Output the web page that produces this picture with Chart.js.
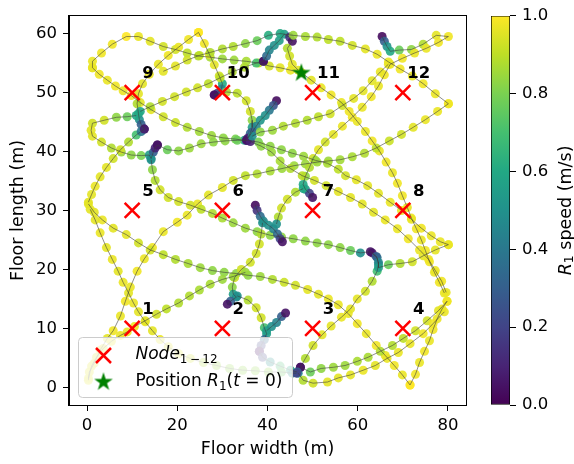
<!DOCTYPE html>
<html>
<head>
<meta charset="utf-8">
<script src="https://cdn.jsdelivr.net/npm/chart.js@4.4.1/dist/chart.umd.min.js"></script>
<style>
html, body { margin: 0; padding: 0; background: #fff; }
#wrap { position: relative; width: 574px; height: 464px; }
#wrap canvas { position: absolute; top: 0; }
</style>
</head>
<body>
<div id="wrap">
	<canvas id="chart-track" width="574" height="464" style="left:0"></canvas>
	<canvas id="chart-colorbar" width="94" height="464" style="left:480px"></canvas>
</div>
<script>
// ---- data ----
const xTicks = [0, 20, 40, 60, 80];
const yTicks = [0, 10, 20, 30, 40, 50, 60];
const speedTicks = [0, 0.2, 0.4, 0.6, 0.8, 1.0];

const nodeX = [10, 30, 50, 70, 10, 30, 50, 70, 10, 30, 50, 70];
const nodeY = [10, 10, 10, 10, 30, 30, 30, 30, 50, 50, 50, 50];
const nodeLabels = ["1", "2", "3", "4", "5", "6", "7", "8", "9", "10", "11", "12"];
const startX = 47.5;
const startY = 53.4;

// trajectory pieces of R1: [x (m), y (m), speed (m/s)]
const seg01 = [[1.2,54.2,.96],[1.2,55.3,.97],[3.2,56.7,.98],[5.6,58.2,.98],[8.7,59.5,1.0],[11.4,59.5,.97],[14.0,58.7,.96],[16.9,57.8,.93],[19.6,57.3,.93],[22.2,56.7,.9],[24.7,56.2,.88],[27.3,56.0,.87],[30.0,55.7,.85],[32.6,55.5,.85],[35.3,55.3,.87],[38.0,55.0,.9],[40.4,54.5,.93],[42.8,54.2,.96],[45.1,53.8,.97],[47.5,53.4,.96],[49.7,52.1,.96],[51.9,50.8,.97],[54.1,49.6,.98],[56.4,48.3,.97],[58.1,46.8,.98],[59.9,45.1,.97],[61.7,43.4,.97],[63.2,41.8,.98],[64.8,40.1,.97],[66.3,38.2,.98],[67.7,36.4,.97],[68.8,34.6,.98],[69.9,32.5,.98],[71.0,30.5,.97],[71.9,28.7,.98],[73.0,26.9,.98],[74.1,25.0,.97],[75.0,23.2,.98],[75.9,21.3,.98],[77.0,19.5,.97],[78.1,17.8,.98],[79.2,16.0,.97]];
const seg02 = [[1.2,54.2,.97],[2.7,53.1,.98],[4.5,52.1,.97],[6.3,51.1,.98],[8.0,50.3,.97],[9.8,49.5,.98],[11.8,48.3,.96],[14.2,47.1,.96],[16.9,45.9,.93],[19.6,44.9,.92],[22.2,44.1,.88],[24.9,43.4,.86],[27.6,42.7,.85],[30.2,42.3,.83],[32.9,42.1,.8],[34.9,41.9,.6],[35.5,41.9,.05]];
const seg03 = [[24.7,60.2,1.0],[22.5,59.0,.98],[20.3,57.7,.97],[18.0,56.3,.98],[15.8,54.8,.97],[13.8,53.1,.97],[12.3,51.5,.96],[11.4,49.8,.96],[11.1,48.1,.88],[11.4,46.4,.58],[11.6,45.4,.5],[12.0,44.6,.3],[12.7,43.8,.06]];
const seg04 = [[24.7,60.2,1.0],[26.0,58.3,.98],[27.1,56.5,.97],[28.2,54.7,.96],[29.3,52.8,.93],[30.0,51.5,.6],[29.8,50.6,.45],[28.9,49.9,.22],[28.2,49.6,.05]];
const seg05 = [[28.2,49.6,.05],[30.9,50.1,.88],[33.3,49.9,.9],[35.3,48.6,.93],[36.2,46.8,.93],[36.6,45.3,.83],[36.6,44.1,.55],[36.2,43.1,.35],[35.5,42.1,.05]];
const seg06 = [[42.0,48.6,.03],[41.3,47.8,.25],[40.4,47.0,.4],[39.5,46.1,.5],[38.4,45.3,.52],[37.5,44.3,.45],[36.6,43.3,.3],[35.7,42.3,.1]];
const seg07 = [[11.8,46.8,.6],[14.0,47.6,.88],[16.7,48.5,.93],[19.4,49.3,.93],[22.0,50.1,.93],[24.5,50.8,.93],[26.9,51.5,.9],[29.5,52.5,.9],[32.2,53.5,.88],[34.9,54.3,.88],[37.5,55.0,.7],[39.1,55.3,.1]];
const seg08 = [[39.1,55.3,.05],[39.8,56.2,.35],[40.4,57.2,.45],[41.5,58.0,.5],[42.6,58.8,.55],[43.7,59.9,.55],[44.9,59.4,.15],[45.5,58.7,.05],[44.4,57.5,.88],[44.9,56.2,.93],[45.5,54.8,.96],[46.8,53.8,.96]];
const seg09 = [[16.9,53.6,.96],[19.6,54.5,.96],[22.2,55.5,.93],[24.9,56.3,.9],[27.3,56.8,.88],[30.0,57.4,.88],[32.4,57.8,.88],[35.1,58.3,.83],[37.7,58.8,.77],[40.2,59.7,.62],[42.8,60.0,.6],[45.7,59.7,.85],[48.4,59.5,.87],[51.0,59.4,.88],[53.5,59.0,.9],[56.1,58.7,.9],[58.8,58.0,.93],[61.7,57.4,.96],[64.3,56.5,.97],[66.8,55.2,.97],[69.4,54.0,.98],[72.1,52.8,.97],[74.5,51.5,.98],[77.2,49.8,.97],[80.1,48.1,.98]];
const seg10 = [[80.1,48.1,.98],[77.7,46.8,.97],[75.0,45.4,.97],[72.3,44.1,.96],[69.7,42.9,.93],[67.0,41.8,.92],[64.1,40.6,.9],[61.5,39.7,.88],[58.8,39.1,.87],[56.1,38.6,.86],[53.5,38.4,.85],[51.0,38.2,.85],[48.4,37.9,.85],[45.9,37.6,.85],[43.2,37.1,.85],[40.6,36.7,.87],[37.7,36.2,.88],[35.1,35.9,.9],[32.4,35.1,.93],[30.0,33.9,.96],[26.9,32.6,.96],[24.5,31.1,.97],[22.2,29.2,.97],[20.0,28.0,.98],[16.9,26.4,.97],[14.5,23.7,.98],[12.7,21.8,.97],[11.1,19.7,.98],[9.6,17.0,.97],[8.5,14.6,.98],[7.4,12.1,.97],[5.8,9.6,.98],[4.5,8.3,.96],[2.9,6.3,.96],[1.6,4.1,.96],[0.5,2.6,.96],[0.3,1.2,.96]];
const seg11 = [[65.4,59.5,.03],[65.9,58.7,.3],[66.5,57.8,.5],[67.2,57.0,.6],[69.2,57.2,.77],[71.9,57.3,.83],[74.5,58.2,.88],[77.4,59.7,.96],[80.1,59.5,.98],[77.9,58.5,.98],[75.2,57.5,.97],[72.6,56.7,.97],[69.9,55.8,.98],[67.2,54.8,.97],[65.9,53.0,.98],[64.6,51.1,.97],[63.0,49.3,.98],[61.0,47.5,.97],[58.8,45.8,.98],[56.6,44.3,.97],[54.6,42.9,.96],[52.8,41.6,.93],[51.3,40.3,.96],[50.1,38.8,.93],[49.3,37.3,.88],[48.4,35.8,.83],[47.9,34.4,.6],[48.4,33.6,.55],[49.3,32.9,.2],[50.0,32.2,.05]];
const seg12 = [[10.9,46.1,.6],[8.9,45.9,.77],[6.5,45.8,.83],[3.8,45.3,.93],[1.2,44.8,.93],[0.9,43.6,.96],[1.2,42.6,.96],[3.2,41.6,.93],[5.4,40.6,.88],[7.6,39.9,.85],[9.8,39.4,.83],[12.0,39.3,.8],[13.8,39.4,.55],[14.2,38.8,.5],[14.7,39.9,.3],[15.1,40.6,.1],[15.6,41.1,.05]];
const seg13 = [[0.3,31.4,.96],[1.0,32.7,.96],[1.8,34.1,.97],[2.9,35.7,.96],[4.3,37.3,.96],[5.8,38.8,.93],[7.4,40.3,.93],[9.2,41.6,.88],[10.9,42.8,.7],[12.0,43.4,.4],[12.7,43.8,.08]];
const seg14 = [[15.6,41.1,.05],[17.8,40.3,.77],[20.3,40.1,.83],[22.7,40.6,.85],[25.3,41.3,.85],[28.0,41.6,.83],[30.6,41.8,.83],[33.3,41.9,.77],[35.3,41.9,.1]];
const seg15 = [[0.3,31.1,.96],[1.6,29.7,.96],[3.4,28.4,.97],[5.8,27.0,.96],[8.7,25.9,.96],[11.4,24.5,.93],[14.0,23.3,.93],[16.9,22.5,.9],[19.6,21.7,.88],[22.4,21.0,.87],[25.1,20.3,.85],[27.8,19.8,.83],[30.4,19.5,.83],[33.1,19.3,.83],[35.7,19.0,.83],[38.4,18.8,.85],[41.1,18.3,.88],[43.7,17.8,.92],[46.2,17.3,.93],[48.9,16.6,.96],[51.3,15.8,.96],[53.5,15.0,.97],[55.7,14.0,.97],[57.9,12.5,.97],[59.9,10.8,.98],[61.9,9.1,.97],[64.1,7.1,.98],[66.1,5.4,.97],[68.1,3.7,.98],[69.9,2.1,.97],[71.6,0.4,1.0]];
const seg16 = [[71.6,0.4,1.0],[72.8,2.2,.98],[73.7,4.2,.97],[74.8,6.1,.98],[75.9,7.9,.97],[76.7,9.8,.98],[77.6,11.6,.97],[78.7,13.3,.98],[79.8,14.6,.98]];
const seg17 = [[79.8,14.6,.98],[77.9,13.0,.96],[75.4,11.3,.93],[72.8,9.6,.93],[70.1,8.3,.9],[67.7,7.1,.88],[65.0,6.1,.88],[62.3,5.1,.87],[59.9,4.4,.87],[57.2,3.7,.85],[54.6,3.4,.85],[51.9,3.2,.83],[49.5,2.6,.77],[47.3,3.4,.05]];
const seg18 = [[46.8,2.4,.45],[47.9,1.2,.88],[50.1,0.7,.93],[53.3,0.9,.96],[55.7,1.6,.96],[58.4,2.1,.96],[61.2,2.9,.97],[63.9,3.7,.96],[66.5,4.9,.97],[69.0,5.9,.97],[71.6,7.4,.97],[74.5,9.1,.98],[76.7,10.8,.98],[79.2,12.8,.97]];
const seg19 = [[47.3,3.4,.05],[48.4,4.9,.88],[50.1,7.1,.93],[52.1,8.9,.96],[54.1,10.4,.96],[56.4,11.9,.97],[58.4,13.3,.96],[59.9,15.0,.96],[61.7,16.3,.93],[63.2,18.0,.88],[64.3,19.7,.7],[64.6,20.8,.55],[64.3,22.0,.4],[63.2,22.8,.05]];
const seg20 = [[14.2,38.6,.5],[14.5,36.9,.83],[15.1,35.1,.88],[16.2,33.5,.93],[18.0,32.2,.93],[20.3,31.5,.93],[22.9,30.9,.93],[25.3,30.2,.9],[27.8,29.5,.88],[30.0,28.7,.87],[32.4,27.9,.85],[35.1,27.0,.85],[37.7,26.4,.83],[40.6,25.8,.83],[43.1,25.5,.83],[45.7,25.2,.83],[48.4,24.8,.83],[51.0,24.5,.83],[53.5,24.2,.83],[56.1,23.7,.83],[58.4,23.2,.77],[60.6,22.8,.5],[62.8,23.0,.05],[64.1,22.2,.3],[64.6,21.2,.45],[64.6,20.3,.55],[66.8,20.8,.77],[69.4,21.0,.88],[72.1,21.3,.93],[74.5,22.3,.96],[77.2,23.3,.96],[80.1,24.2,.97]];
const seg21 = [[35.5,41.9,.05],[38.0,41.6,.8],[40.6,40.9,.83],[43.1,40.3,.83],[45.5,39.7,.83],[48.0,39.2,.85],[50.6,38.5,.85],[53.3,38.0,.87],[55.7,37.0,.9],[57.3,35.9,.93],[59.7,35.2,.96],[62.2,34.2,.96],[64.6,32.9,.96],[67.2,31.4,.97],[69.7,30.0,.97],[71.9,28.5,.97],[74.1,27.0,.98],[76.3,25.7,.97],[78.3,24.7,.97],[80.1,24.2,.97]];
const seg22 = [[36.2,41.7,.1],[38.6,40.9,.83],[40.9,39.9,.85],[42.8,38.4,.87],[45.1,37.1,.88],[47.7,35.9,.9],[50.4,35.1,.93],[53.0,34.2,.93],[55.7,33.2,.96],[58.4,32.2,.96],[61.0,31.1,.96],[63.5,29.7,.96],[66.1,28.4,.97],[68.8,26.9,.97],[71.2,25.2,.98],[73.7,23.3,.97],[75.7,21.7,.98],[77.2,19.8,.97],[78.6,18.0,.98],[79.6,16.1,.97]];
const seg23 = [[37.3,30.9,.03],[37.7,30.0,.15],[38.4,29.0,.35],[39.1,28.2,.45],[40.2,27.5,.5],[41.3,26.9,.45],[42.2,26.0,.35],[42.8,25.2,.2],[43.3,24.7,.05]];
const seg24 = [[47.9,33.7,.6],[46.2,33.1,.88],[44.4,31.9,.93],[43.1,30.4,.93],[42.4,28.9,.88],[42.0,27.7,.5]];
const seg25 = [[38.9,27.9,.5],[38.6,26.0,.88],[38.2,24.3,.93],[37.5,22.7,.93],[36.2,21.2,.93],[34.2,20.0,.93],[32.7,18.6,.93],[32.2,17.0,.83],[32.4,15.8,.55],[33.1,15.3,.45],[31.8,14.6,.3],[31.1,14.1,.05]];
const seg26 = [[33.3,15.5,.5],[35.7,14.8,.88],[37.5,13.5,.93],[38.6,11.8,.93],[39.3,10.1,.7],[39.8,9.1,.55],[39.3,8.1,.35],[38.6,7.1,.2],[38.2,6.1,.05]];
const seg27 = [[39.8,9.6,.55],[40.9,10.3,.5],[42.0,11.0,.45],[43.1,12.0,.3],[44.0,12.6,.05]];
const seg28 = [[38.2,6.1,.05],[38.9,5.1,.2],[40.6,4.3,.5],[42.8,3.6,.7],[45.1,2.9,.6],[46.6,2.6,.3]];
const seg29 = [[0.7,30.2,.96],[1.8,28.4,.96],[2.9,26.2,.97],[4.3,23.7,.96],[5.6,21.7,.97],[6.9,19.7,.96],[8.0,17.8,.97],[9.2,16.0,.96],[10.3,14.3,.97],[11.4,12.8,.96],[12.9,11.1,.97],[14.5,9.6,.96],[16.2,8.1,.97],[18.0,6.9,.96],[20.3,5.7,.96],[22.9,4.9,.93],[25.8,4.2,.88],[28.7,3.7,.85],[31.6,3.2,.83],[34.5,2.9,.83],[37.3,2.8,.83],[40.2,2.6,.83],[43.1,2.6,.77],[45.5,2.4,.5],[46.4,2.4,.2]];
const seg30 = [[0.3,1.5,.96],[1.0,3.6,.96],[2.1,5.1,.96],[3.6,6.6,.96],[5.4,7.8,.97],[7.4,8.8,.97],[8.9,9.4,.97],[10.5,10.3,.97],[12.9,11.3,.96],[15.4,12.4,.93],[17.6,13.3,.9],[20.3,14.3,.88],[22.7,15.5,.88],[24.9,16.5,.87],[27.3,17.5,.87],[30.0,18.3,.85],[32.4,18.8,.85],[35.1,19.5,.85]];
const seg31 = [[66.8,54.8,.97],[65.0,53.5,.97],[63.2,52.0,.96],[61.2,50.3,.96],[59.1,49.0,.96],[56.6,47.8,.93],[53.9,46.4,.93],[51.3,45.9,.9],[48.8,45.3,.88],[46.2,44.8,.88],[43.5,44.3,.88],[41.1,43.6,.85],[38.4,43.3,.83],[36.6,42.6,.5]];

const segments = [seg01, seg02, seg03, seg04, seg05, seg06, seg07, seg08, seg09, seg10,
	seg11, seg12, seg13, seg14, seg15, seg16, seg17, seg18, seg19, seg20,
	seg21, seg22, seg23, seg24, seg25, seg26, seg27, seg28, seg29, seg30, seg31];

// ---- style ----
const FONT = "'DejaVu Sans', sans-serif";
const VIRIDIS = [[68,1,84],[72,36,117],[65,68,135],[53,95,141],[42,120,142],[33,145,140],[34,168,132],[68,191,112],[122,209,81],[189,223,38],[253,231,37]];

const viridis = (v, alpha = 1) => {
	const t = Math.max(0, Math.min(1, v)) * (VIRIDIS.length - 1);
	const i = Math.min(Math.floor(t), VIRIDIS.length - 2);
	const f = t - i;
	const c = VIRIDIS[i].map((a, k) => Math.round(a + (VIRIDIS[i + 1][k] - a) * f));
	return `rgba(${c[0]},${c[1]},${c[2]},${alpha})`;
};

const starImage = (() => {
	const size = 22, c = document.createElement("canvas");
	c.width = size; c.height = size;
	const g = c.getContext("2d");
	const R = 9.8, r = R * 0.382;
	g.beginPath();
	for (let k = 0; k < 10; k++) {
		const rad = k % 2 === 0 ? R : r;
		const a = -Math.PI / 2 + k * Math.PI / 5;
		g.lineTo(size / 2 + rad * Math.cos(a), size / 2 + 0.6 + rad * Math.sin(a));
	}
	g.closePath();
	g.fillStyle = "#008000";
	g.fill();
	return c;
})();

const drawRuns = (ctx, x, y, runs) => {
	runs.forEach((r) => {
		ctx.font = r.font;
		ctx.fillText(r.text, x, y + (r.dy || 0));
		x += ctx.measureText(r.text).width;
	});
};
const runsWidth = (ctx, runs) => runs.reduce((w, r) => { ctx.font = r.font; return w + ctx.measureText(r.text).width; }, 0);

// ---- track chart ----
(() => {
	const CHART_WRAPPER = document.getElementById("chart-track");

	const dots = [];
	const dotColors = [];
	const path = [];
	segments.forEach((seg) => {
		seg.forEach((p) => {
			dots.push({ x: p[0], y: p[1] });
			dotColors.push(viridis(p[2], 0.9));
			path.push({ x: p[0], y: p[1] });
		});
		path.push({ x: null, y: null });
	});

	const framePlugin = {
		id: "frameAndLabels",
		afterDatasetsDraw(chart) {
			const { ctx, scales: { x, y } } = chart;
			ctx.save();
			ctx.fillStyle = "#000";
			ctx.font = `bold 16.5px ${FONT}`;
			ctx.textAlign = "center";
			ctx.textBaseline = "middle";
			nodeLabels.forEach((t, i) => {
				ctx.fillText(t, x.getPixelForValue(nodeX[i] + 3.5), y.getPixelForValue(nodeY[i] + 3.2));
			});
			ctx.restore();
		},
		afterDraw(chart) {
			const { ctx, chartArea: a } = chart;
			ctx.save();
			ctx.strokeStyle = "#000";
			ctx.lineWidth = 1;
			ctx.strokeRect(Math.round(a.left) - 0.5, Math.round(a.top) - 0.5, Math.round(a.right - a.left) + 1, Math.round(a.bottom - a.top) + 1);

			// legend
			const bx = 78.5, by = 337.5, bw = 214, bh = 60, br = 4;
			ctx.beginPath();
			ctx.roundRect(bx, by, bw, bh, br);
			ctx.fillStyle = "rgba(255,255,255,0.8)";
			ctx.fill();
			ctx.strokeStyle = "#cccccc";
			ctx.stroke();

			ctx.strokeStyle = "#ff0000";
			ctx.lineWidth = 2.5;
			const mx = 103.5, my = 355.5, h = 7.5;
			ctx.beginPath();
			ctx.moveTo(mx - h, my - h); ctx.lineTo(mx + h, my + h);
			ctx.moveTo(mx - h, my + h); ctx.lineTo(mx + h, my - h);
			ctx.stroke();
			ctx.drawImage(starImage, 103.5 - 11, 381.5 - 11);

			ctx.fillStyle = "#000";
			ctx.textAlign = "left";
			ctx.textBaseline = "alphabetic";
			drawRuns(ctx, 135.5, 359, [
				{ text: "Node", font: `italic 17px ${FONT}` },
				{ text: "1\u2009\u2212\u200912", font: `12px ${FONT}`, dy: 4 },
			]);
			drawRuns(ctx, 135.5, 386, [
				{ text: "Position ", font: `17px ${FONT}` },
				{ text: "R", font: `italic 17px ${FONT}` },
				{ text: "1", font: `12px ${FONT}`, dy: 4 },
				{ text: "(", font: `17px ${FONT}` },
				{ text: "t", font: `italic 17px ${FONT}` },
				{ text: " = 0)", font: `17px ${FONT}` },
			]);
			ctx.restore();
		},
	};

	const axisCommon = {
		type: "linear",
		grid: { display: true, drawOnChartArea: false, drawTicks: true, tickLength: 6, color: "#000", lineWidth: 1 },
		border: { display: true, color: "#000", width: 1 },
	};

	const CHART_CONFIG = {
		type: "scatter",
		data: {
			datasets: [
				{
					label: "speed",
					data: dots,
					pointRadius: 4.5,
					pointHoverRadius: 4.5,
					pointBorderWidth: 0,
					pointBackgroundColor: dotColors,
					order: 4,
				},
				{
					label: "path",
					data: path,
					showLine: true,
					spanGaps: false,
					borderColor: "rgba(60,60,60,0.65)",
					borderWidth: 0.9,
					pointRadius: 0,
					order: 3,
				},
				{
					label: "nodes",
					data: nodeX.map((x, i) => ({ x, y: nodeY[i] })),
					pointStyle: "crossRot",
					pointRadius: 10.6,
					pointBorderWidth: 2.5,
					borderColor: "#ff0000",
					backgroundColor: "#ff0000",
					order: 2,
				},
				{
					label: "start",
					data: [{ x: startX, y: startY }],
					pointStyle: starImage,
					pointRadius: 10,
					order: 1,
				},
			],
		},
		options: {
			responsive: false,
			animation: false,
			devicePixelRatio: 1,
			layout: { padding: { left: 0, right: 108, top: 11, bottom: 0 } },
			plugins: {
				legend: { display: false },
				title: { display: false },
				tooltip: { enabled: false },
			},
			scales: {
				x: {
					...axisCommon,
					min: -4,
					max: 84,
					afterBuildTicks: (s) => { s.ticks = xTicks.map((v) => ({ value: v })); },
					afterFit: (s) => { s.height = 59; },
					ticks: { color: "#000", font: { family: FONT, size: 16.5 }, padding: 5, maxRotation: 0 },
					title: { display: true, text: "Floor width (m)", color: "#000", font: { family: FONT, size: 17.5 }, padding: { top: 0, bottom: 4.5 } },
				},
				y: {
					...axisCommon,
					min: -3,
					max: 63,
					afterBuildTicks: (s) => { s.ticks = yTicks.map((v) => ({ value: v })); },
					afterFit: (s) => { s.width = 69; },
					ticks: { color: "#000", font: { family: FONT, size: 16.5 }, padding: 6 },
					title: { display: true, text: "Floor length (m)", color: "#000", font: { family: FONT, size: 17.5 }, padding: { top: 7.5, bottom: 0 } },
				},
			},
		},
		plugins: [framePlugin],
	};

	if (CHART_WRAPPER) {
		new Chart(CHART_WRAPPER, CHART_CONFIG);
	}
})();

// ---- colorbar ----
(() => {
	const CHART_WRAPPER = document.getElementById("chart-colorbar");

	const labelPlugin = {
		id: "colorbarLabel",
		afterDraw(chart) {
			const { ctx, chartArea: a } = chart;
			const runs = [
				{ text: "R", font: `italic 17.5px ${FONT}` },
				{ text: "1", font: `12.5px ${FONT}`, dy: 4 },
				{ text: " speed (m/s)", font: `17.5px ${FONT}` },
			];
			ctx.save();
			ctx.translate(86, (a.top + a.bottom) / 2);
			ctx.rotate(-Math.PI / 2);
			ctx.fillStyle = "#000";
			ctx.textAlign = "left";
			ctx.textBaseline = "middle";
			drawRuns(ctx, -runsWidth(ctx, runs) / 2, 0, runs);
			ctx.restore();
		},
	};

	const CHART_CONFIG = {
		type: "bar",
		data: {
			labels: ["speed"],
			datasets: [
				{
					data: [1],
					backgroundColor: (c) => {
						const a = c.chart.chartArea;
						if (!a) return "rgba(0,0,0,0)";
						const g = c.chart.ctx.createLinearGradient(0, a.bottom, 0, a.top);
						VIRIDIS.forEach((col, i) => g.addColorStop(i / (VIRIDIS.length - 1), `rgb(${col[0]},${col[1]},${col[2]})`));
						return g;
					},
					borderColor: "#000",
					borderWidth: 1,
					borderSkipped: false,
					barPercentage: 1,
					categoryPercentage: 1,
				},
			],
		},
		options: {
			responsive: false,
			animation: false,
			devicePixelRatio: 1,
			layout: { padding: { left: 11, right: 0, top: 11, bottom: 59 } },
			plugins: { legend: { display: false }, tooltip: { enabled: false } },
			scales: {
				x: { display: false },
				y: {
					position: "right",
					min: 0,
					max: 1,
					afterBuildTicks: (s) => { s.ticks = speedTicks.map((v) => ({ value: v })); },
					afterFit: (s) => { s.width = 64; },
					grid: { display: true, drawOnChartArea: false, drawTicks: true, tickLength: 6, color: "#000" },
					border: { display: false },
					ticks: { color: "#000", font: { family: FONT, size: 16.5 }, padding: 6, callback: (v) => Number(v).toFixed(1) },
				},
			},
		},
		plugins: [labelPlugin],
	};

	if (CHART_WRAPPER) {
		new Chart(CHART_WRAPPER, CHART_CONFIG);
	}
})();
</script>
</body>
</html>
